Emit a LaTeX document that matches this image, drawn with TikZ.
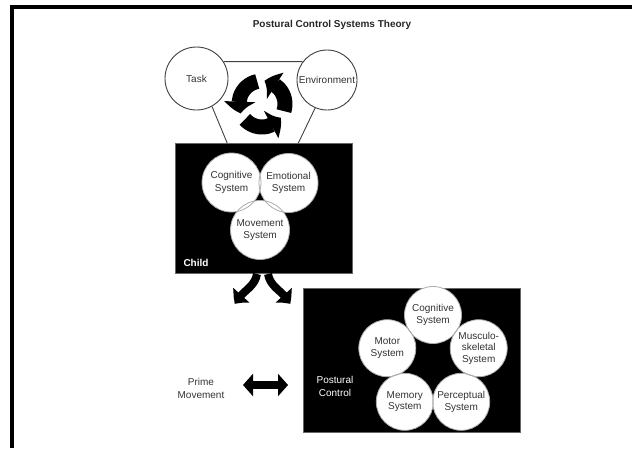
\documentclass[tikz,border=0pt]{standalone}
\usepackage{fontspec}
\setmainfont{Liberation Sans}
\usetikzlibrary{arrows.meta,bending,calc}

\tikzset{
  sysc/.style={circle,fill=white,inner sep=0pt,minimum size=59pt,align=center,
    font=\fontsize{10}{12.5}\selectfont,text=black!80},
  smallsys/.style={sysc,minimum size=57pt,font=\fontsize{10}{11.5}\selectfont},
  outer/.style={circle,draw=black!75,line width=0.9pt,fill=white,inner sep=0pt,
    font=\fontsize{10}{12}\selectfont,text=black!80},
  blackbox/.style={fill=black,draw=black!60,line width=0.5pt,inner sep=0pt},
  rim/.style={draw=gray!65,line width=0.8pt},
  link/.style={draw=black!75,line width=0.9pt},
  fat/.style={line width=8pt,-{Triangle[width=21pt,length=11pt,bend]}},
  cyc/.style={line width=15pt,-{Triangle[width=30pt,length=12pt,bend]}},
  dbl/.style={line width=8pt,{Triangle[width=22pt,length=10pt]}-{Triangle[width=22pt,length=10pt]}},
}

\begin{document}
\begin{tikzpicture}[x=1pt,y=1pt]
  \useasboundingbox (0,0) rectangle (632,-448);
  % frame
  \draw[line width=3.5pt] (12,-448) -- (12,-7) -- (632,-7);
  \node[font=\fontsize{10}{12}\selectfont\bfseries,text=black!85] (title) at (332,-25) {Postural Control Systems Theory};

  % task and environment
  \node[outer,minimum size=63pt] (task) at (196.5,-78.5) {Task};
  \node[outer,minimum size=60pt] (env) at (327,-80) {Environment};

  % child
  \node[blackbox,minimum width=177pt,minimum height=130pt,anchor=north west] (child) at (175,-143) {};
  \draw[link] (task.32) -- (env.143);
  \draw[link] (task.-61) -- ($(child.north west)!0.294!(child.north east)$);
  \draw[link] (env.-113) -- ($(child.north west)!0.695!(child.north east)$);

  % cycle
  \coordinate (ring) at (262,-104);
  \draw[cyc] ([shift={(-18:23)}]ring) arc[start angle=-18,end angle=84,radius=23];
  \draw[cyc] ([shift={(102:23)}]ring) arc[start angle=102,end angle=204,radius=23];
  \draw[cyc] ([shift={(222:23)}]ring) arc[start angle=222,end angle=324,radius=23];

  \node[sysc] (cog) at (231.5,-182.5) {Cognitive\\System};
  \node[sysc] (emo) at (288.5,-183) {Emotional\\System};
  \node[sysc] (mov) at (260,-230) {Movement\\System};
  \foreach \n in {cog,emo,mov}
    \draw[rim] (\n.center) circle (29.5);
  \node[text=white,font=\fontsize{10}{12}\selectfont\bfseries] (childlbl) at (196,-263) {Child};

  % split arrows
  \coordinate (splitL) at (257,-274);
  \coordinate (splitR) at (268,-274);
  \coordinate (endL) at (235,-304);
  \coordinate (endR) at (290,-304);
  \draw[fat] (splitL) to[out=-100,in=65] (endL);
  \draw[fat] (splitR) to[out=-80,in=115] (endR);

  % postural control
  \node[blackbox,minimum width=217pt,minimum height=144pt,anchor=north west] (post) at (303,-288) {};
  \node[smallsys] (cog2) at (433,-315) {Cognitive\\System};
  \node[smallsys] (musc) at (478.7,-348.2) {Musculo-\\skeletal\\System};
  \node[smallsys] (perc) at (461.2,-401.8) {Perceptual\\System};
  \node[smallsys] (mem) at (404.8,-401.8) {Memory\\System};
  \node[smallsys] (mot) at (387.3,-348.2) {Motor\\System};
  \foreach \n in {cog2,musc,perc,mem,mot}
    \draw[rim] (\n.center) circle (28.5);
  \node[text=white,align=center,font=\fontsize{10}{13}\selectfont] (postlbl) at (335,-386.5) {Postural\\Control};

  % prime movement
  \node[align=center,text=black!80,font=\fontsize{10}{13}\selectfont] (prime) at (201,-388.5) {Prime\\Movement};
  \coordinate (pmA) at (243,-385);
  \coordinate (pmB) at (288,-385);
  \draw[dbl] (pmA) -- (pmB);
\end{tikzpicture}
\end{document}
